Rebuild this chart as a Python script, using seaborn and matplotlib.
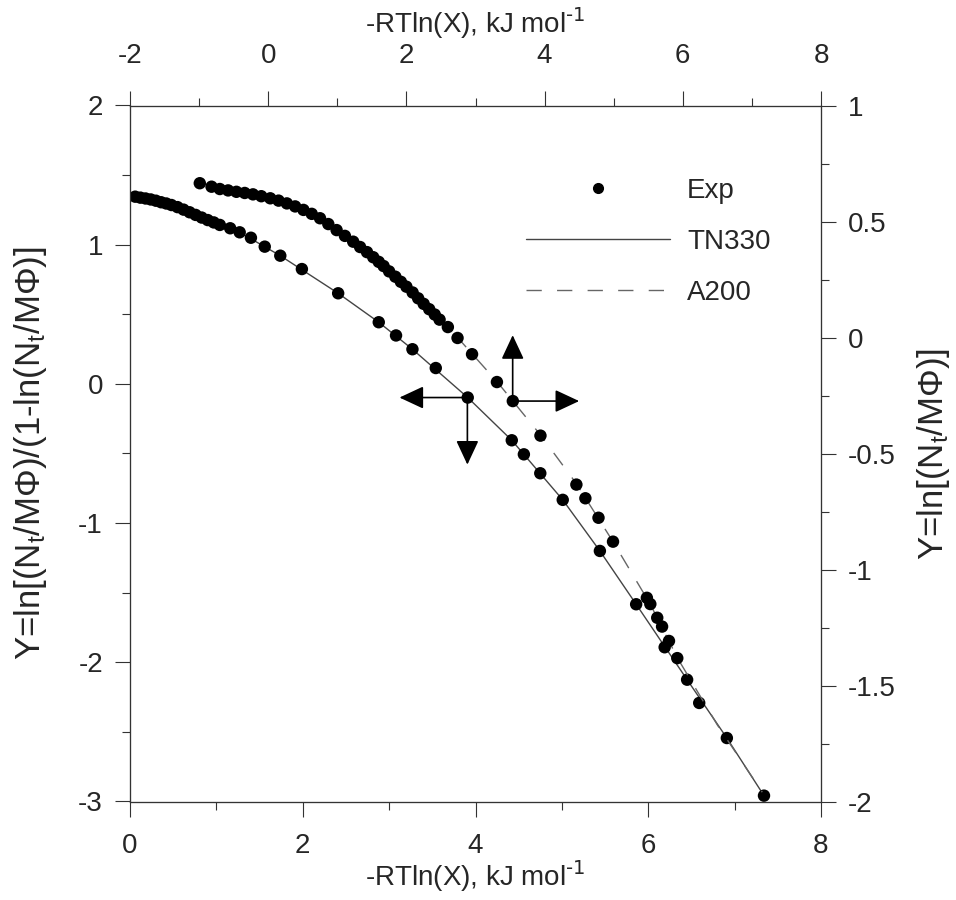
import matplotlib
matplotlib.use("Agg")
import matplotlib.pyplot as plt
import seaborn as sns
from matplotlib.ticker import MultipleLocator
from matplotlib.lines import Line2D

# ---------------- data ----------------
# Series on bottom / left axes (TN330 fit)
tn_x = [0.06, 0.12, 0.18, 0.24, 0.30, 0.36, 0.42, 0.48, 0.55, 0.62, 0.69, 0.76,
        0.83, 0.90, 0.97, 1.04, 1.16, 1.27, 1.40, 1.56, 1.74, 1.99, 2.41, 2.88,
        3.08, 3.27, 3.54, 3.91, 4.42, 4.56, 4.75, 5.01, 5.44, 5.86, 6.19, 6.45,
        6.59, 6.91, 7.34]
tn_y = [1.345, 1.338, 1.332, 1.325, 1.316, 1.305, 1.296, 1.285, 1.270, 1.252,
        1.233, 1.214, 1.195, 1.177, 1.160, 1.142, 1.118, 1.089, 1.050, 0.986,
        0.921, 0.825, 0.651, 0.443, 0.348, 0.249, 0.114, -0.098, -0.405, -0.506,
        -0.642, -0.833, -1.200, -1.583, -1.892, -2.125, -2.292, -2.544, -2.958]
tn_fit_x = [0.06, 0.48, 0.83, 1.27, 1.74, 2.41, 2.88, 3.27, 3.91, 4.42, 5.01,
            5.44, 5.86, 6.45, 6.91, 7.34]
tn_fit_y = [1.345, 1.285, 1.195, 1.089, 0.921, 0.651, 0.443, 0.249, -0.098,
            -0.405, -0.833, -1.200, -1.583, -2.125, -2.544, -2.958]

# Series on top / right axes (A200 fit)
a_x = [-0.99, -0.82, -0.70, -0.58, -0.46, -0.34, -0.22, -0.10, 0.03, 0.15,
       0.27, 0.39, 0.51, 0.63, 0.75, 0.87, 0.99, 1.11, 1.23, 1.33, 1.43, 1.52,
       1.60, 1.67, 1.75, 1.84, 1.92, 2.00, 2.09, 2.17, 2.25, 2.33, 2.41, 2.48,
       2.60, 2.74, 2.95, 3.31, 3.54, 3.94, 4.46, 4.59, 4.78, 4.99, 5.48, 5.53,
       5.63, 5.70, 5.80, 5.92]
a_y = [0.665, 0.650, 0.640, 0.634, 0.628, 0.623, 0.617, 0.609, 0.600, 0.590,
       0.578, 0.565, 0.550, 0.533, 0.514, 0.489, 0.463, 0.438, 0.413, 0.390,
       0.368, 0.346, 0.326, 0.308, 0.285, 0.262, 0.240, 0.219, 0.194, 0.169,
       0.145, 0.122, 0.099, 0.077, 0.045, -0.002, -0.072, -0.192, -0.274,
       -0.423, -0.634, -0.693, -0.777, -0.880, -1.122, -1.149, -1.208, -1.246,
       -1.308, -1.382]
a_fit_x = [-0.99, -0.22, 0.51, 1.23, 1.84, 2.33, 2.74, 3.31, 3.94, 4.46, 4.99,
           5.53, 5.92, 6.50, 7.15]
a_fit_y = [0.665, 0.617, 0.550, 0.413, 0.262, 0.122, 0.0, -0.19, -0.42, -0.63,
           -0.88, -1.15, -1.38, -1.67, -1.96]

legend_labels = ["Exp", "TN330", "A200"]
x_label = r"-RTln(X), kJ mol$^{\text{-1}}$"
yl_label = r"Y=ln[(N$_\mathregular{t}$/MΦ)/(1-ln(N$_\mathregular{t}$/MΦ)]"
yr_label = r"Y=ln[(N$_\mathregular{t}$/MΦ)]"

# ---------------- style ----------------
sns.set_style("ticks")
plt.rcParams["font.family"] = ["Liberation Sans", "DejaVu Sans"]
plt.rcParams["mathtext.default"] = "regular"
FS = 20
YFS = 25
SPINE = "#333333"

fig = plt.figure(figsize=(9.56, 9), dpi=100)
ax = fig.add_axes([130 / 956, 1 - 801.5 / 900, 691 / 956, 696 / 900])
axr = ax.twinx()
axt = axr.twiny()

# fit lines
sns.lineplot(x=tn_fit_x, y=tn_fit_y, ax=ax, sort=False, estimator=None,
             color="#444444", lw=1.0, zorder=2)
sns.lineplot(x=a_fit_x, y=a_fit_y, ax=axt, sort=False, estimator=None,
             color="#666666", lw=1.0, linestyle=(0, (11, 11)), zorder=2)
# experimental points
sns.scatterplot(x=tn_x, y=tn_y, ax=ax, color="black", s=80, edgecolor="none",
                zorder=3)
sns.scatterplot(x=a_x, y=a_y, ax=axt, color="black", s=80, edgecolor="none",
                zorder=3)

# limits and ticks
ax.set_xlim(0, 8)
ax.set_ylim(-3, 2)
axr.set_ylim(-2, 1)
axt.set_xlim(-2, 8)

ax.xaxis.set_major_locator(MultipleLocator(2))
ax.xaxis.set_minor_locator(MultipleLocator(1))
ax.yaxis.set_major_locator(MultipleLocator(1))
ax.yaxis.set_minor_locator(MultipleLocator(0.5))
axr.yaxis.set_major_locator(MultipleLocator(0.5))
axr.yaxis.set_minor_locator(MultipleLocator(0.25))
axt.xaxis.set_major_locator(MultipleLocator(2))
axt.xaxis.set_minor_locator(MultipleLocator(1))

for a in (ax, axr, axt):
    a.tick_params(which="major", direction="out", length=10.5, width=0.8,
                  color=SPINE, labelsize=FS, pad=9)
    a.tick_params(which="minor", direction="out", length=5.5, width=0.8,
                  color=SPINE)
    for sp in a.spines.values():
        sp.set_color(SPINE)
        sp.set_linewidth(0.8)
ax.tick_params(which="both", top=False, right=False)
axr.yaxis.set_ticks_position("right")
axt.xaxis.set_ticks_position("top")
ax.tick_params(axis="x", pad=12)
axt.tick_params(axis="x", pad=16)

def fmt(v, pos=None):
    return "%g" % v

ax.xaxis.set_major_formatter(plt.FuncFormatter(fmt))
ax.yaxis.set_major_formatter(plt.FuncFormatter(fmt))
axr.yaxis.set_major_formatter(plt.FuncFormatter(fmt))
axt.xaxis.set_major_formatter(plt.FuncFormatter(fmt))

ax.set_xlabel(x_label, fontsize=FS, labelpad=0)
ax.set_ylabel(yl_label, fontsize=YFS, labelpad=21)
axr.set_ylabel(yr_label, fontsize=YFS, labelpad=14)
axt.set_xlabel(x_label, fontsize=FS, labelpad=7)
axt.set_ylabel("")

# arrows showing which axes each series uses
ap = dict(arrowstyle="-|>,head_length=0.75,head_width=0.35", color="black",
          lw=1.2, mutation_scale=20, shrinkA=0, shrinkB=0)
ax.annotate("", xy=(3.12, -0.098), xytext=(3.906, -0.098), arrowprops=ap)
ax.annotate("", xy=(3.906, -0.58), xytext=(3.906, -0.098), arrowprops=ap)
axt.annotate("", xy=(3.538, 0.01), xytext=(3.538, -0.274), arrowprops=ap)
axt.annotate("", xy=(4.50, -0.274), xytext=(3.538, -0.274), arrowprops=ap)

# legend
handles = [
    Line2D([], [], color="black", marker="o", markersize=7, linestyle="none"),
    Line2D([], [], color="#444444", lw=1.0),
    Line2D([], [], color="#666666", lw=1.0, linestyle=(0, (11, 11))),
]
axt.legend(handles, legend_labels, loc="upper left", frameon=False,
           fontsize=FS, handlelength=5.2, handletextpad=0.6, labelspacing=0.9,
           borderpad=0, borderaxespad=0,
           bbox_to_anchor=(526 / 956, 1 - 178 / 900),
           bbox_transform=fig.transFigure)

fig.savefig("out.png", dpi=100)
